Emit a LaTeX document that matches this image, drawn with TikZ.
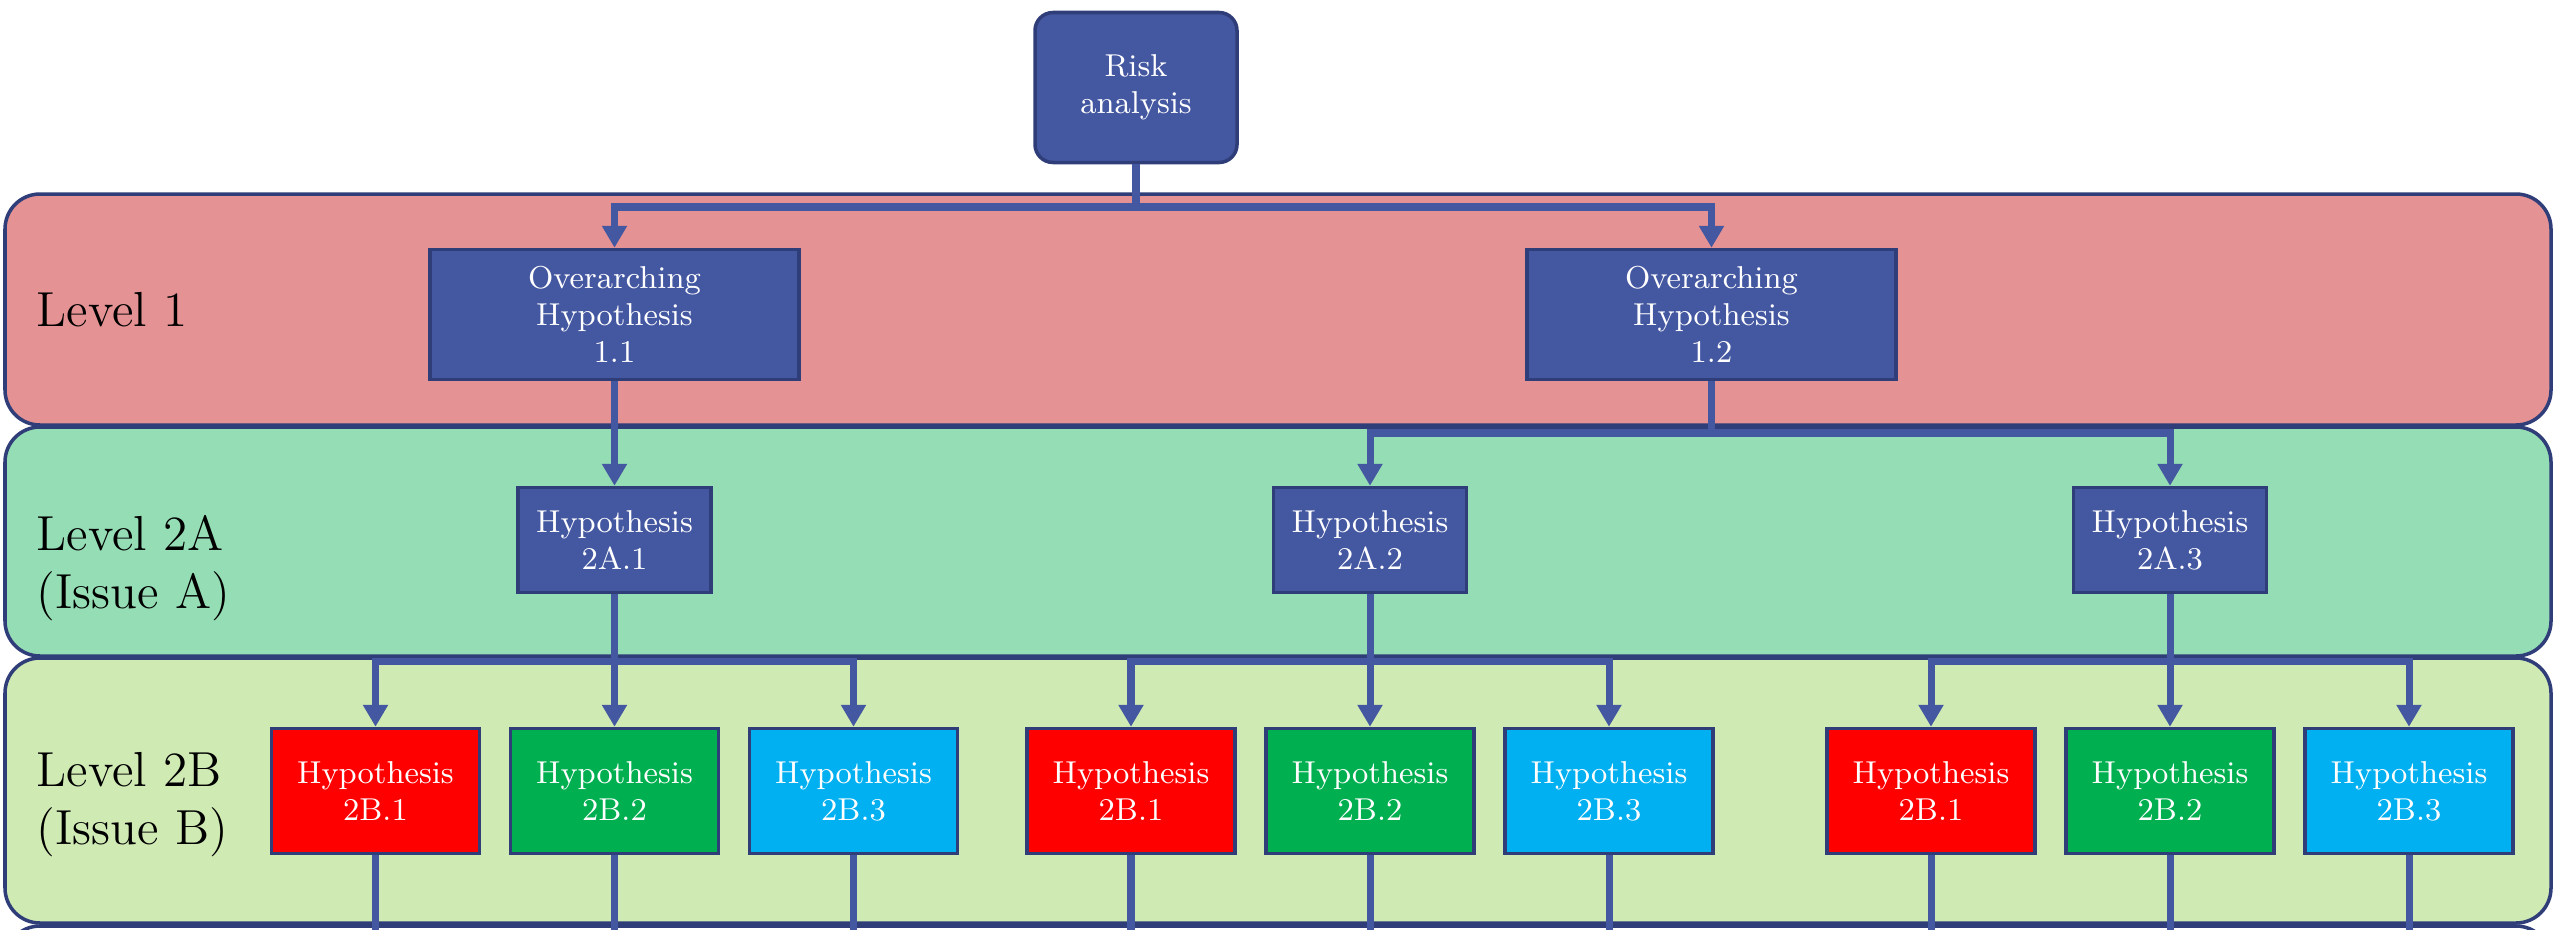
\documentclass[tikz,border=0pt]{standalone}
\usepackage{xcolor}
\usepackage{tikz}
\usetikzlibrary{arrows.meta,positioning,calc}

\definecolor{navy}{HTML}{4457A1}
\definecolor{navyline}{HTML}{2F3D78}
\definecolor{levelone}{HTML}{E49293}
\definecolor{leveltwoa}{HTML}{95DDB4}
\definecolor{leveltwob}{HTML}{D0EAB4}
\definecolor{hred}{HTML}{FF0000}
\definecolor{hgreen}{HTML}{00B050}
\definecolor{hblue}{HTML}{00B0F0}

\begin{document}
\begin{tikzpicture}[
    band/.style={draw=navyline, line width=1pt, rounded corners=0.35cm},
    levellabel/.style={anchor=west, align=left, inner sep=0pt, font=\fontsize{14}{16.5}\selectfont},
    hyp/.style={rectangle, draw=navyline, line width=1pt, fill=navy, text=white, align=center, font=\fontsize{9}{10.5}\selectfont, minimum width=1.93cm, minimum height=1.05cm},
    overhyp/.style={hyp, minimum width=3.69cm, minimum height=1.30cm},
    subhyp/.style={hyp, minimum width=2.08cm, minimum height=1.25cm},
    link/.style={draw=navy, line width=2pt},
    arrow/.style={link, -{Triangle[width=0.24cm,length=0.22cm]}}
]
\useasboundingbox (0,0) rectangle (25.6,-9.29);
\clip (0,0) rectangle (25.6,-9.29);

% Levels
\draw[band, fill=levelone] (0.05,-1.94) rectangle (25.51,-4.25);
\draw[band, fill=leveltwoa] (0.05,-4.27) rectangle (25.51,-6.56);
\draw[band, fill=leveltwob] (0.05,-6.58) rectangle (25.51,-9.23);
\draw[band, fill=white] (0.05,-9.26) rectangle (25.51,-11);

\node[levellabel] (lvl1) at (0.36,-3.10) {Level 1};
\node[levellabel] (lvl2a) at (0.36,-5.68) {Level 2A\\(Issue A)};
\node[levellabel] (lvl2b) at (0.36,-8.05) {Level 2B\\(Issue B)};

% Risk analysis
\node[hyp, rounded corners=0.18cm, minimum width=2.02cm, minimum height=1.50cm] (risk) at (11.36,-0.875) {Risk\\analysis};

% Level 1
\node[overhyp] (oh1) at (6.145,-3.145) {Overarching\\Hypothesis\\1.1};
\node[overhyp] (oh2) at (17.115,-3.145) {Overarching\\Hypothesis\\1.2};

% Level 2A
\node[hyp] (h2a1) at (6.145,-5.40) {Hypothesis\\2A.1};
\node[hyp] (h2a2) at (13.70,-5.40) {Hypothesis\\2A.2};
\node[hyp] (h2a3) at (21.70,-5.40) {Hypothesis\\2A.3};

% Level 2B
\foreach \g/\x in {1/6.145, 2/13.70, 3/21.70} {
    \node[subhyp, fill=hred] (hb\g-1) at (\x-2.39,-7.91) {Hypothesis\\2B.1};
    \node[subhyp, fill=hgreen] (hb\g-2) at (\x,-7.91) {Hypothesis\\2B.2};
    \node[subhyp, fill=hblue] (hb\g-3) at (\x+2.39,-7.91) {Hypothesis\\2B.3};
}

% Arrows
\coordinate (split0) at (11.36,-2.07);
\draw[link] (risk) -- (split0);
\draw[arrow] (split0) -| (oh1);
\draw[arrow] (split0) -| (oh2);

\draw[arrow] (oh1) -- (h2a1);

\coordinate (split1) at (17.115,-4.33);
\draw[link] (oh2) -- (split1);
\draw[arrow] (split1) -| (h2a2);
\draw[arrow] (split1) -| (h2a3);

\foreach \g/\x in {1/6.145, 2/13.70, 3/21.70} {
    \coordinate (split2\g) at (\x,-6.61);
    \draw[link] (h2a\g) -- (split2\g);
    \foreach \k in {1,2,3} {
        \draw[arrow] (split2\g) -| (hb\g-\k);
        \coordinate (tail\g-\k) at ($(hb\g-\k)+(0,-1.6)$);
        \draw[link] (hb\g-\k) -- (tail\g-\k);
    }
}

\end{tikzpicture}
\end{document}
